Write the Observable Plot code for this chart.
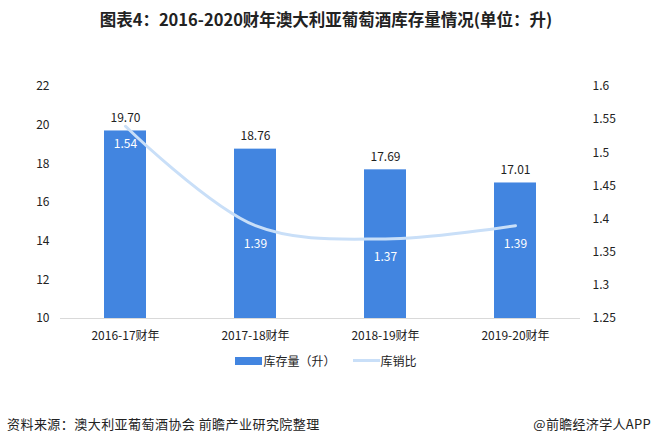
<!DOCTYPE html>
<html><head><meta charset="utf-8">
<script src="https://cdn.jsdelivr.net/npm/d3@7"></script>
<script src="https://cdn.jsdelivr.net/npm/@observablehq/plot@0.6"></script>
<style>
body{margin:0;background:#fff;font-family:"Noto Sans CJK SC","Noto Sans",sans-serif;}
#wrap{position:relative;width:652px;height:446px;overflow:hidden;background:#fff;}
#title{position:absolute;top:7px;left:0;width:652px;text-align:center;font-size:16.5px;font-weight:bold;color:#222;}
#chart{position:absolute;top:0;left:0;}
#legend{position:absolute;top:352px;left:0;width:652px;display:flex;justify-content:center;align-items:center;font-size:12px;color:#222;}
.sw{display:inline-block;width:27px;margin-right:1px;}
#src{position:absolute;top:414px;left:7px;font-size:13px;letter-spacing:0.45px;color:#222;}
#app{position:absolute;top:414px;right:1px;font-size:13px;letter-spacing:0.3px;color:#222;}
</style></head>
<body><div id="wrap">
<div id="chart"></div>
<div id="title">图表4：2016-2020财年澳大利亚葡萄酒库存量情况(单位：升)</div>
<div id="legend"><span class="sw" style="height:8px;background:#4285e0"></span><span>库存量（升）</span><span style="width:17px"></span><span class="sw" style="height:3px;background:#c9dff8"></span><span>库销比</span></div>
<div id="src">资料来源：澳大利亚葡萄酒协会 前瞻产业研究院整理</div>
<div id="app">@前瞻经济学人APP</div>
</div>
<script>
const categories = ["2016-17财年","2017-18财年","2018-19财年","2019-20财年"];
const stock = [19.70, 18.76, 17.69, 17.01];
const ratio = [1.54, 1.39, 1.37, 1.39];
const leftTicks = [10,12,14,16,18,20,22];
const rightTicks = [1.25,1.3,1.35,1.4,1.45,1.5,1.55,1.6];

const L0 = 10, L1 = 22, R0 = 1.25, R1 = 1.6;
const toLeft = r => L0 + (r - R0) / (R1 - R0) * (L1 - L0);
const toRight = l => R0 + (l - L0) / (L1 - L0) * (R1 - R0);

const bars = categories.map((c,i)=>({c, v: stock[i]}));
const pts = categories.map((c,i)=>({c, r: ratio[i], y: toLeft(ratio[i])}));

const font = '"Noto Sans CJK SC","Noto Sans",sans-serif';
const chart = Plot.plot({
  width: 652, height: 350,
  marginTop: 86, marginBottom: 32, marginLeft: 60, marginRight: 72,
  style: {fontFamily: font, fontSize: "12px", color: "#222", background: "transparent"},
  x: {domain: categories, paddingInner: 0.68, paddingOuter: 0.34, align: 0.5},
  y: {domain: [L0, L1]},
  marks: [
    Plot.barY(bars, {x: "c", y1: L0, y2: "v", fill: "#4285e0"}),
    Plot.ruleY([L0], {stroke: "#d9d9d9", strokeWidth: 1}),
    Plot.axisY(leftTicks, {anchor: "left", tickSize: 0, tickPadding: 11, fontSize: 12, label: null}),
    Plot.axisY(rightTicks.map(toLeft), {anchor: "right", tickSize: 0, tickPadding: 12, fontSize: 12, label: null,
      tickFormat: d => String(+toRight(d).toFixed(2))}),
    Plot.axisX({tickSize: 0, tickPadding: 13, fontSize: 12, label: null}),
    Plot.text(bars, {x: "c", y: "v", text: d => d.v.toFixed(2), dy: -13, fill: "#222", fontSize: 12}),
    Plot.line(pts, {x: "c", y: "y", stroke: "#c9dff8", strokeWidth: 3, curve: "catmull-rom", strokeLinecap: "round"}),
    Plot.text(pts, {x: "c", y: "y", text: d => d.r.toFixed(2), dy: 18, fill: "#fff", fontSize: 12})
  ]
});
document.getElementById("chart").appendChild(chart);
</script>
</body></html>
